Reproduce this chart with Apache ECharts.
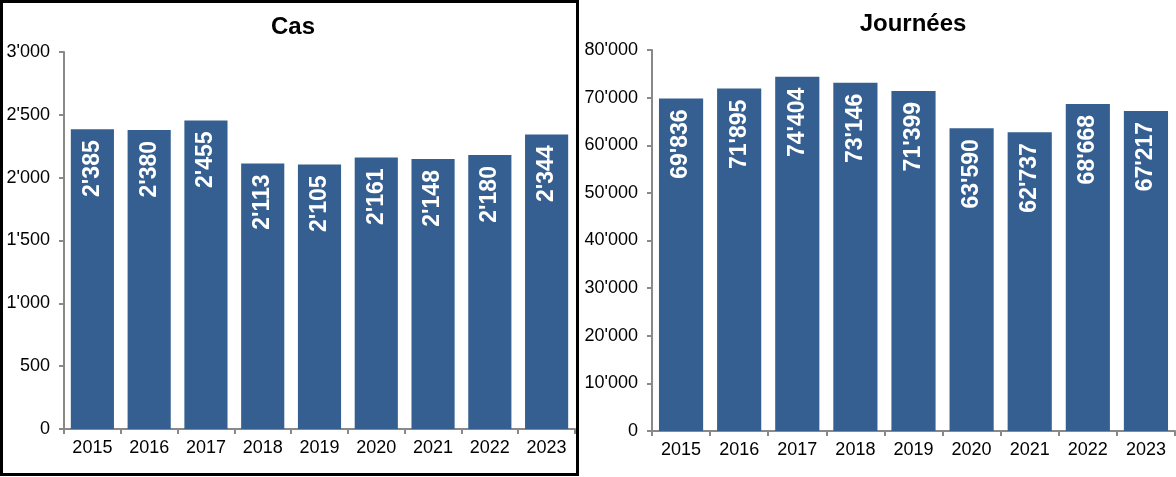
<!DOCTYPE html>
<html>
<head>
<meta charset="utf-8">
<script src="https://cdn.jsdelivr.net/npm/echarts@6/dist/echarts.min.js"></script>
<style>
  html, body { margin: 0; padding: 0; background: #fff; }
  #chart { width: 1176px; height: 477px; }
</style>
</head>
<body>
<div id="chart"></div>
<script>
const years = ['2015', '2016', '2017', '2018', '2019', '2020', '2021', '2022', '2023'];
const casValues = [2385, 2380, 2455, 2113, 2105, 2161, 2148, 2180, 2344];
const journeesValues = [69836, 71895, 74404, 73146, 71399, 63590, 62737, 68668, 67217];
const titles = ['Cas', 'Journées'];

function fmt(v) {
  return String(v).replace(/\B(?=(\d{3})+(?!\d))/g, "'");
}

const FONT = "'Liberation Sans', Arial, sans-serif";
const BAR = '#365F91';
const AXIS = '#898989';

function xAxis(gridIndex) {
  return {
    type: 'category', gridIndex: gridIndex, data: years,
    axisLine: { lineStyle: { color: AXIS, width: 2 } },
    axisTick: { show: true, length: 5, lineStyle: { color: AXIS, width: 2 } },
    axisLabel: { color: '#000', fontFamily: FONT, fontSize: 18, margin: 10 }
  };
}
function yAxis(gridIndex, max, interval) {
  return {
    type: 'value', gridIndex: gridIndex, min: 0, max: max, interval: interval,
    splitLine: { show: false },
    axisLine: { show: true, lineStyle: { color: AXIS, width: 2 } },
    axisTick: { show: true, length: 5, lineStyle: { color: AXIS, width: 2 } },
    axisLabel: { color: '#000', fontFamily: FONT, fontSize: 18, margin: 14, formatter: fmt }
  };
}
function series(i, data) {
  return {
    type: 'bar', xAxisIndex: i, yAxisIndex: i, data: data,
    barCategoryGap: '24%',
    itemStyle: { color: BAR },
    label: {
      show: true, position: 'insideTop', rotate: 90, distance: 11,
      align: 'right', verticalAlign: 'middle',
      color: '#fff', fontFamily: FONT, fontSize: 23, fontWeight: 'bold',
      formatter: p => fmt(p.value)
    }
  };
}

const chart = echarts.init(document.getElementById('chart'), null, { renderer: 'canvas' });
chart.setOption({
  animation: false,
  backgroundColor: '#fff',
  title: [
    { text: titles[0], left: 288, top: 10, textAlign: 'center',
      textStyle: { fontFamily: FONT, fontSize: 24, fontWeight: 'bold', color: '#000' } },
    { text: titles[1], left: 908, top: 7, textAlign: 'center',
      textStyle: { fontFamily: FONT, fontSize: 24, fontWeight: 'bold', color: '#000' } }
  ],
  grid: [
    { left: 64, top: 52, width: 511, height: 377 },
    { left: 652, top: 50, width: 523, height: 381 }
  ],
  xAxis: [xAxis(0), xAxis(1)],
  yAxis: [yAxis(0, 3000, 500), yAxis(1, 80000, 10000)],
  series: [series(0, casValues), series(1, journeesValues)],
  graphic: [
    { type: 'rect', shape: { x: 1.5, y: 1.5, width: 576, height: 473 },
      style: { fill: 'none', stroke: '#000', lineWidth: 3 }, silent: true }
  ]
});
</script>
</body>
</html>
